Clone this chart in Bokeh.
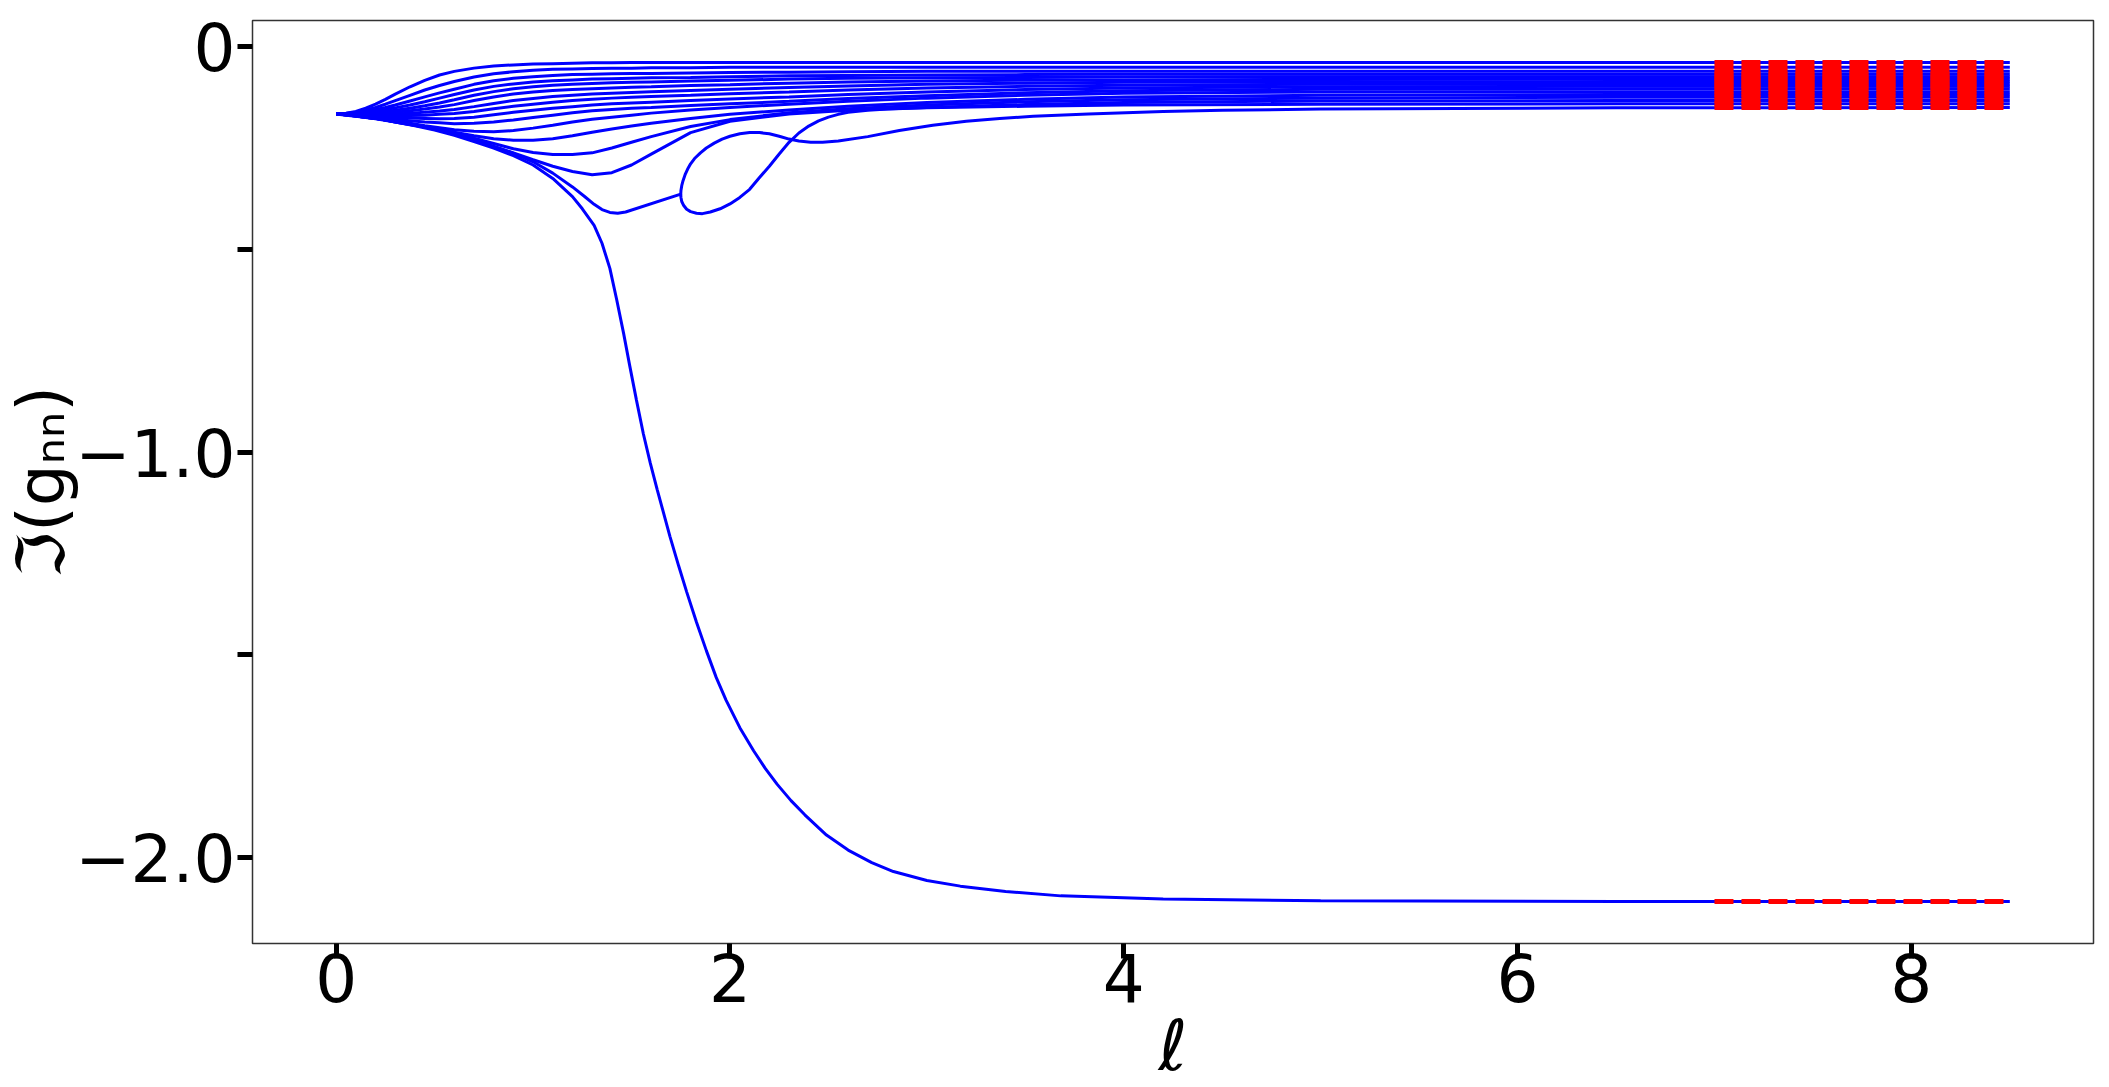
from bokeh.plotting import figure
from bokeh.models import Range1d, FixedTicker
from bokeh.embed import file_html
from bokeh.resources import INLINE

# ---------------- data ----------------
# shared flow-parameter grid for the upper family of curves
ell = [0, 0.05, 0.1, 0.15, 0.2, 0.25, 0.3, 0.375, 0.45, 0.525, 0.6, 0.7, 0.8, 0.9, 1.0, 1.1,
       1.2, 1.3, 1.4, 1.5, 1.6, 1.8, 2.0, 2.3, 2.6, 3.0, 3.5, 4.0, 5.0, 6.5, 8.5]

g01 = [-0.166, -0.164, -0.160, -0.152, -0.142, -0.130, -0.117, -0.099, -0.083, -0.070, -0.061,
       -0.053, -0.048, -0.045, -0.043, -0.042, -0.041, -0.040, -0.040, -0.039, -0.039, -0.039,
       -0.039, -0.039, -0.039, -0.039, -0.039, -0.039, -0.039, -0.039, -0.039]
g02 = [-0.166, -0.165, -0.162, -0.157, -0.150, -0.142, -0.133, -0.120, -0.107, -0.096, -0.086,
       -0.075, -0.067, -0.062, -0.058, -0.056, -0.055, -0.054, -0.053, -0.053, -0.052, -0.052,
       -0.051, -0.051, -0.051, -0.051, -0.051, -0.051, -0.051, -0.051, -0.051]
g03 = [-0.166, -0.165, -0.163, -0.160, -0.155, -0.150, -0.144, -0.134, -0.124, -0.114, -0.105,
       -0.093, -0.084, -0.078, -0.074, -0.071, -0.069, -0.068, -0.067, -0.066, -0.066, -0.065,
       -0.064, -0.063, -0.062, -0.061, -0.061, -0.061, -0.061, -0.061, -0.061]
g04 = [-0.166, -0.166, -0.164, -0.162, -0.159, -0.155, -0.151, -0.144, -0.136, -0.127, -0.118,
       -0.107, -0.098, -0.092, -0.087, -0.084, -0.082, -0.080, -0.079, -0.078, -0.077, -0.076,
       -0.074, -0.072, -0.071, -0.070, -0.069, -0.068, -0.068, -0.068, -0.068]
g05 = [-0.166, -0.166, -0.165, -0.164, -0.162, -0.160, -0.157, -0.152, -0.146, -0.139, -0.131,
       -0.120, -0.111, -0.104, -0.099, -0.095, -0.093, -0.091, -0.089, -0.088, -0.087, -0.085,
       -0.083, -0.080, -0.078, -0.077, -0.076, -0.075, -0.074, -0.074, -0.074]
g06 = [-0.166, -0.166, -0.166, -0.166, -0.165, -0.164, -0.162, -0.158, -0.154, -0.149, -0.143,
       -0.133, -0.124, -0.117, -0.112, -0.108, -0.106, -0.104, -0.102, -0.100, -0.099, -0.096,
       -0.094, -0.090, -0.087, -0.085, -0.083, -0.082, -0.081, -0.080, -0.080]
g07 = [-0.166, -0.167, -0.167, -0.167, -0.167, -0.167, -0.166, -0.164, -0.162, -0.159, -0.155,
       -0.148, -0.140, -0.133, -0.128, -0.123, -0.120, -0.117, -0.115, -0.113, -0.111, -0.108,
       -0.105, -0.101, -0.097, -0.093, -0.090, -0.088, -0.087, -0.086, -0.086]
g08 = [-0.166, -0.167, -0.168, -0.169, -0.169, -0.170, -0.170, -0.170, -0.169, -0.167, -0.165,
       -0.160, -0.153, -0.147, -0.142, -0.137, -0.133, -0.130, -0.127, -0.125, -0.123, -0.120,
       -0.116, -0.112, -0.107, -0.102, -0.098, -0.095, -0.093, -0.092, -0.092]
g09 = [-0.166, -0.168, -0.169, -0.171, -0.172, -0.174, -0.175, -0.176, -0.177, -0.178, -0.177,
       -0.174, -0.168, -0.162, -0.157, -0.152, -0.148, -0.144, -0.141, -0.139, -0.137, -0.133,
       -0.129, -0.124, -0.118, -0.112, -0.106, -0.102, -0.099, -0.098, -0.098]
g10 = [-0.166, -0.168, -0.170, -0.172, -0.175, -0.177, -0.180, -0.183, -0.186, -0.188, -0.190,
       -0.189, -0.186, -0.181, -0.175, -0.169, -0.163, -0.158, -0.155, -0.152, -0.150, -0.145,
       -0.141, -0.135, -0.128, -0.121, -0.114, -0.109, -0.105, -0.104, -0.104]
g11 = [-0.166, -0.168, -0.170, -0.173, -0.177, -0.180, -0.184, -0.189, -0.195, -0.200, -0.205,
       -0.209, -0.210, -0.207, -0.201, -0.194, -0.186, -0.179, -0.174, -0.169, -0.164, -0.156,
       -0.150, -0.142, -0.135, -0.127, -0.120, -0.115, -0.112, -0.111, -0.111]
g12 = [-0.166, -0.168, -0.171, -0.174, -0.177, -0.181, -0.185, -0.191, -0.197, -0.204, -0.211,
       -0.220, -0.227, -0.231, -0.231, -0.227, -0.220, -0.211, -0.203, -0.196, -0.189, -0.177,
       -0.167, -0.156, -0.147, -0.138, -0.130, -0.124, -0.120, -0.118, -0.118]
g13 = [-0.166, -0.168, -0.171, -0.174, -0.177, -0.181, -0.186, -0.192, -0.198, -0.206, -0.214,
       -0.226, -0.239, -0.252, -0.261, -0.266, -0.266, -0.262, -0.250, -0.236, -0.222, -0.197,
       -0.180, -0.163, -0.153, -0.144, -0.136, -0.131, -0.127, -0.125, -0.125]
g14 = [-0.166, -0.168, -0.171, -0.174, -0.177, -0.181, -0.186, -0.192, -0.198, -0.207, -0.217,
       -0.231, -0.246, -0.262, -0.279, -0.295, -0.308, -0.316, -0.311, -0.292, -0.265, -0.212,
       -0.184, -0.166, -0.157, -0.150, -0.143, -0.138, -0.134, -0.133, -0.133]

# curve that dips, jumps to the loop and closes its lower half
dip_ell = [0, 0.05, 0.1, 0.15, 0.2, 0.3, 0.375, 0.45, 0.525, 0.6, 0.7, 0.8, 0.9, 1.0, 1.1, 1.2,
           1.26, 1.31, 1.35, 1.39, 1.43, 1.47, 1.75, 1.751, 1.755, 1.765, 1.78, 1.80, 1.83, 1.86,
           1.90, 1.95, 2.0, 2.05, 2.1, 2.15, 2.2, 2.25, 2.3, 2.35, 2.4, 2.45, 2.5, 2.55, 2.6,
           2.7, 2.8, 3.0, 3.5, 4.0, 5.0, 6.5, 8.5]
dip_val = [-0.166, -0.168, -0.171, -0.174, -0.177, -0.185, -0.191, -0.197, -0.206, -0.216, -0.230,
           -0.246, -0.263, -0.284, -0.312, -0.346, -0.369, -0.389, -0.402, -0.409, -0.411, -0.408,
           -0.364, -0.372, -0.382, -0.392, -0.401, -0.407, -0.411, -0.412, -0.408, -0.400, -0.388,
           -0.372, -0.352, -0.323, -0.295, -0.265, -0.236, -0.213, -0.196, -0.183, -0.174, -0.167,
           -0.162, -0.157, -0.154, -0.151, -0.147, -0.144, -0.142, -0.141, -0.141]

# upper half of the loop and its long tail
loop_ell = [1.75, 1.751, 1.755, 1.762, 1.772, 1.785, 1.80, 1.82, 1.85, 1.88, 1.92, 1.96, 2.0,
            2.05, 2.10, 2.15, 2.20, 2.25, 2.30, 2.35, 2.41, 2.47, 2.55, 2.7, 2.86, 3.03, 3.2,
            3.37, 3.54, 3.82, 4.2, 4.5, 5.0, 6.5, 8.5]
loop_val = [-0.364, -0.355, -0.343, -0.330, -0.316, -0.302, -0.289, -0.276, -0.262, -0.250,
            -0.238, -0.228, -0.221, -0.215, -0.212, -0.212, -0.215, -0.221, -0.228, -0.233,
            -0.236, -0.236, -0.233, -0.222, -0.207, -0.194, -0.184, -0.177, -0.172, -0.166,
            -0.160, -0.157, -0.154, -0.151, -0.150]

# the curve that runs away to about -2.1
big_ell = [0, 0.05, 0.1, 0.15, 0.2, 0.3, 0.4, 0.5, 0.6, 0.7, 0.8, 0.9, 1.0, 1.1, 1.2, 1.25, 1.31,
           1.35, 1.39, 1.425, 1.46, 1.49, 1.525, 1.56, 1.595, 1.63, 1.695, 1.74, 1.78, 1.83, 1.88,
           1.93, 1.98, 2.05, 2.12, 2.18, 2.24, 2.31, 2.38, 2.49, 2.6, 2.72, 2.83, 3.0, 3.17, 3.4,
           3.68, 4.2, 5.0, 6.5, 8.5]
big_val = [-0.166, -0.169, -0.172, -0.175, -0.178, -0.186, -0.195, -0.206, -0.219, -0.234, -0.250,
           -0.269, -0.292, -0.325, -0.370, -0.400, -0.441, -0.485, -0.547, -0.625, -0.708, -0.785,
           -0.872, -0.955, -1.027, -1.092, -1.208, -1.282, -1.345, -1.420, -1.490, -1.556, -1.612,
           -1.680, -1.737, -1.781, -1.820, -1.860, -1.895, -1.945, -1.982, -2.013, -2.035, -2.057,
           -2.071, -2.084, -2.095, -2.103, -2.107, -2.109, -2.109]

# asymptotic values shown as red dashes
asym_ell = [7.0, 8.5]
asymptotes = [-0.039, -0.051, -0.061, -0.068, -0.074, -0.080, -0.086, -0.092, -0.098, -0.104,
              -0.111, -0.118, -0.125, -0.133, -0.141, -0.150, -2.109]

y_ticks = [0, -1, -2]
y_minor = [-0.5, -1.5]
y_labels = {0: "0", -1: "\u22121.0", -2: "\u22122.0"}
x_ticks = [0, 2, 4, 6, 8]

# ---------------- figure ----------------
FONT = "DejaVu Sans"
p = figure(frame_width=1841, frame_height=923,
           min_border_left=252, min_border_right=16, min_border_top=20, min_border_bottom=144,
           x_range=Range1d(-0.425, 8.925), y_range=Range1d(-2.2125, 0.0645),
           output_backend="svg", toolbar_location=None, background_fill_color="white",
           border_fill_color="white")
p.grid.visible = False
p.outline_line_color = "#333333"
p.outline_line_width = 1.5

upper = [g01, g02, g03, g04, g05, g06, g07, g08, g09, g10, g11, g12, g13, g14]
for vals in upper:
    p.line(ell, vals, line_color="#0000ff", line_width=3)
p.line(dip_ell, dip_val, line_color="#0000ff", line_width=3)
p.line(loop_ell, loop_val, line_color="#0000ff", line_width=3)
p.line(big_ell, big_val, line_color="#0000ff", line_width=3)

p.multi_line(xs=[asym_ell for _ in asymptotes], ys=[[a, a] for a in asymptotes],
             line_color="#ff0000", line_width=5, line_dash="19 8")

for ax in (p.xaxis[0], p.yaxis[0]):
    ax.axis_line_color = None
    ax.major_tick_in = 0
    ax.major_tick_out = 15
    ax.major_tick_line_width = 5
    ax.major_tick_line_color = "black"
    ax.minor_tick_in = 0
    ax.minor_tick_out = 15
    ax.minor_tick_line_width = 5
    ax.minor_tick_line_color = "black"
    ax.major_label_text_font = FONT
    ax.major_label_text_font_size = "66px"
    ax.major_label_text_color = "black"
    ax.axis_label_text_font = FONT
    ax.axis_label_text_font_size = "66px"
    ax.axis_label_text_color = "black"

p.xaxis.ticker = FixedTicker(ticks=x_ticks, minor_ticks=[])
p.yaxis.ticker = FixedTicker(ticks=y_ticks, minor_ticks=y_minor)
p.yaxis.major_label_overrides = y_labels

p.xaxis.axis_label = "\u2113"
p.xaxis.axis_label_text_font_style = "italic"
p.xaxis.axis_label_text_font_size = "70px"
p.yaxis.axis_label = "\u2111(g\u2099\u2099)"
p.yaxis.axis_label_text_font_style = "normal"

p.xaxis.major_label_standoff = -6
p.xaxis.axis_label_standoff = 0
p.yaxis.major_label_standoff = 2
p.yaxis.axis_label_standoff = -8

open("out.html", "w").write(file_html(p, INLINE))
